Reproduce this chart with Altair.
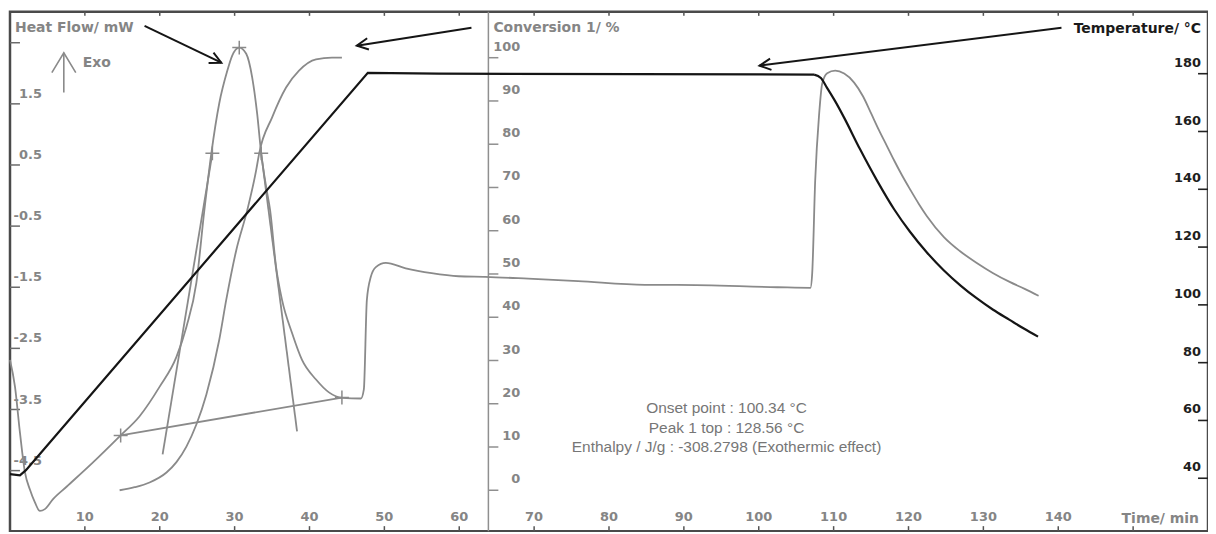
import math
import altair as alt
import pandas as pd

# ---------------- data ----------------
# Heat flow (mW) vs time (min)
hf_time = [0.0, 0.67, 1.33, 2.0, 2.66, 3.33, 3.99, 4.66, 5.72, 7.59, 11.05, 14.64, 17.31,
           19.97, 22.23, 23.56, 24.89, 25.96, 26.89, 27.95, 29.02, 29.68, 30.62, 31.55, 32.35,
           33.01, 33.55, 34.21, 34.74, 35.54, 36.34, 37.67, 39.0, 40.87, 42.6, 44.33, 46.86,
           47.26, 47.66, 48.19, 48.86, 50.19, 52.85, 56.31, 59.9, 63.49, 69.2, 75.87, 84.78,
           89.17, 102.5, 106.9, 107.14, 107.54, 108.07, 108.47, 109.14, 110.22, 111.41, 112.74,
           113.94, 115.01, 116.07, 117.14, 118.07, 119.13, 120.2, 121.4, 122.46, 124.73, 126.85,
           129.12, 131.25, 133.51, 135.51, 137.37]
hf_value = [-2.69, -3.13, -3.88, -4.53, -4.81, -5.02, -5.16, -5.13, -4.97, -4.76, -4.37, -3.94,
            -3.61, -3.13, -2.64, -2.15, -1.43, -0.24, 0.69, 1.51, 2.04, 2.29, 2.42, 2.32, 1.93,
            1.34, 0.69, 0.14, -0.24, -1.17, -1.71, -2.25, -2.69, -3.01, -3.22, -3.31, -3.32,
            -3.17, -1.71, -1.33, -1.17, -1.10, -1.19, -1.27, -1.32, -1.33, -1.36, -1.40, -1.46,
            -1.46, -1.50, -1.51, -1.27, 0.25, 1.34, 1.83, 2.0, 2.043, 1.995, 1.848, 1.62, 1.343,
            1.066, 0.805, 0.577, 0.332, 0.104, -0.141, -0.337, -0.679, -0.907, -1.103, -1.266,
            -1.413, -1.527, -1.641]

# Baseline and tangents of the exothermic peak (heat-flow units)
baseline_time = [14.78, 44.33]
baseline_hf = [-3.924, -3.305]
tangent1_time = [20.38, 27.03]
tangent1_hf = [-4.234, 0.69]
tangent2_time = [33.55, 38.34]
tangent2_hf = [0.69, -3.859]

# "+" markers on the heat-flow curve
marker_time = [14.78, 44.33, 27.03, 33.55, 30.62]
marker_hf = [-3.924, -3.305, 0.69, 0.69, 2.42]

# Conversion (%)
conv_time = [14.64, 16.64, 18.64, 20.9, 22.23, 23.56, 24.89, 26.22, 27.95, 28.88, 30.22, 31.68,
             32.88, 33.28, 35.01, 36.87, 38.6, 40.87, 43.0, 44.33]
conv_value = [0.0, 0.7, 1.8, 4.1, 6.5, 10.1, 15.2, 22.1, 34.8, 44.0, 55.5, 64.7, 74.0, 77.9,
              86.2, 93.1, 97.0, 99.6, 100.0, 100.0]

# Temperature (°C): heating ramp + isotherm, then cooling
temp_ramp_time = [0.0, 1.33, 2.13, 2.93, 47.79, 57.2, 107.4]
temp_ramp_value = [41.4, 41.0, 42.8, 45.2, 180.3, 180.0, 179.7]
temp_cool_time = [107.4, 108.3, 109.1, 110.2, 111.4, 113.5, 115.8, 118.1, 120.2, 122.4, 124.7,
                  127.0, 129.1, 131.3, 133.5, 135.4, 137.3]
temp_cool_value = [179.7, 178.5, 175.2, 170.5, 164.8, 154.0, 143.0, 133.0, 125.3, 118.3, 112.0,
                   106.6, 102.3, 98.3, 94.8, 91.8, 89.0]

# Annotation arrows (time, temperature-scale units)
arrow_t0 = [17.97, 61.63, 140.43]
arrow_v0 = [196.55, 195.9, 195.9]
arrow_t1 = [28.22, 46.32, 100.1]
arrow_v1 = [183.8, 189.7, 182.8]

# Axis ticks / labels
hf_ticks = [2.5, 1.5, 0.5, -0.5, -1.5, -2.5, -3.5, -4.5]
hf_labels = ["", "1.5", "0.5", "-0.5", "-1.5", "-2.5", "-3.5", "-4.5"]
conv_ticks = [100, 90, 80, 70, 60, 50, 40, 30, 20, 10, 0]
conv_labels = ["100", "90", "80", "70", "60", "50", "40", "30", "20", "10", "0"]
temp_ticks = [180, 160, 140, 120, 100, 80, 60, 40]
temp_labels = ["180", "160", "140", "120", "100", "80", "60", "40"]
time_ticks = [10, 20, 30, 40, 50, 60, 70, 80, 90, 100, 110, 120, 130, 140, 150]
time_labels = ["10", "20", "30", "40", "50", "60", "70", "80", "90", "100", "110", "120", "130", "140", ""]

# Result annotation (time, conversion-scale units)
ann_time = [95.7, 95.7, 95.7]
ann_conv = [19.1, 14.5, 9.9]
ann_text = ["Onset point : 100.34  °C", "Peak 1 top : 128.56  °C",
            "Enthalpy / J/g : -308.2798 (Exothermic effect)"]

# ---------------- chart ----------------
W, H = 1202, 521
T_DOM = [0, 160]
HF_DOM = [-5.49, 3.005]
CV_DOM = [-9.45, 110.6]
TP_DOM = [21.7, 201.4]

GRAY = "#8a8a8a"
LABEL_GRAY = "#858585"
BLACK = "#151515"
BOLD_FONT = "DejaVu Sans"


def X(field):
    return alt.X(field, type="quantitative",
                 scale=alt.Scale(domain=T_DOM, nice=False, zero=False), axis=None)


def Y(field, dom):
    return alt.Y(field, type="quantitative",
                 scale=alt.Scale(domain=dom, nice=False, zero=False), axis=None)


one = pd.DataFrame({"a": [0]})

# heat-flow curve + construction lines
rows = []
for i, (t, v) in enumerate(zip(hf_time, hf_value)):
    rows.append({"t": t, "v": v, "seg": "curve", "i": i})
for name, ts, vs in [("baseline", baseline_time, baseline_hf),
                     ("tan1", tangent1_time, tangent1_hf),
                     ("tan2", tangent2_time, tangent2_hf)]:
    for i, (t, v) in enumerate(zip(ts, vs)):
        rows.append({"t": t, "v": v, "seg": name, "i": i})
hf_df = pd.DataFrame(rows)

hf_layer = alt.Chart(hf_df).mark_line(color=GRAY, strokeWidth=1.8, interpolate="monotone").encode(
    x=X("t"), y=Y("v", HF_DOM), detail="seg:N", order="i:Q")

marker_df = pd.DataFrame({"t": marker_time, "v": marker_hf})
marker_layer = alt.Chart(marker_df).mark_point(
    shape="M-1,0L1,0M0,-1L0,1", size=196, filled=False, strokeWidth=1.5,
    color=GRAY, opacity=1).encode(x=X("t"), y=Y("v", HF_DOM))

conv_df = pd.DataFrame({"t": conv_time, "v": conv_value, "i": range(len(conv_time))})
conv_layer = alt.Chart(conv_df).mark_line(color=GRAY, strokeWidth=1.8, interpolate="monotone").encode(
    x=X("t"), y=Y("v", CV_DOM), order="i:Q")

ramp_df = pd.DataFrame({"t": temp_ramp_time, "v": temp_ramp_value, "i": range(len(temp_ramp_time))})
ramp_layer = alt.Chart(ramp_df).mark_line(color=BLACK, strokeWidth=2.2).encode(
    x=X("t"), y=Y("v", TP_DOM), order="i:Q")
cool_df = pd.DataFrame({"t": temp_cool_time, "v": temp_cool_value, "i": range(len(temp_cool_time))})
cool_layer = alt.Chart(cool_df).mark_line(color=BLACK, strokeWidth=2.2, interpolate="monotone").encode(
    x=X("t"), y=Y("v", TP_DOM), order="i:Q")

# arrows
px_t = W / (T_DOM[1] - T_DOM[0])
px_v = H / (TP_DOM[1] - TP_DOM[0])
angles = []
for a0, b0, a1, b1 in zip(arrow_t0, arrow_v0, arrow_t1, arrow_v1):
    ang = math.degrees(math.atan2(-(b1 - b0) * px_v, (a1 - a0) * px_t)) % 360
    angles.append(ang)
arrow_df = pd.DataFrame({"t0": arrow_t0, "v0": arrow_v0, "t1": arrow_t1, "v1": arrow_v1, "ang": angles})
arrow_shaft = alt.Chart(arrow_df).mark_rule(color=BLACK, strokeWidth=2).encode(
    x=X("t0"), x2="t1", y=Y("v0", TP_DOM), y2="v1")
arrow_head = alt.Chart(arrow_df).mark_point(
    shape="M-1,-0.5L0,0L-1,0.5", size=520, filled=False, strokeWidth=2,
    color=BLACK, opacity=1).encode(
    x=X("t1"), y=Y("v1", TP_DOM), angle=alt.Angle("ang:Q", scale=None))

# Exo indicator
exo_shaft = alt.Chart(one).mark_rule(color=GRAY, strokeWidth=1.6).encode(
    x=alt.value(54), y=alt.value(41), y2=alt.value(81))
exo_head = alt.Chart(one).mark_point(
    shape="M-0.6,1L0,0L0.6,1", size=1600, filled=False, strokeWidth=1.6,
    color=GRAY, opacity=1).encode(x=alt.value(54), y=alt.value(41))

# axes drawn as marks
hf_tick_df = pd.DataFrame({"v": hf_ticks, "lab": hf_labels})
hf_tick_layer = alt.Chart(hf_tick_df).mark_rule(color="#6a6a6a", strokeWidth=1.5).encode(
    x=alt.value(0), x2=alt.value(10), y=Y("v", HF_DOM))
hf_lab_layer = alt.Chart(hf_tick_df).mark_text(
    align="right", baseline="middle", dy=-10, font=BOLD_FONT, fontWeight="bold",
    fontSize=13, color=LABEL_GRAY).encode(x=alt.value(32), y=Y("v", HF_DOM), text="lab:N")

cv_tick_df = pd.DataFrame({"v": conv_ticks, "lab": conv_labels})
cv_axis_line = alt.Chart(one).mark_rule(color="#8f8f8f", strokeWidth=1.5).encode(
    x=alt.value(480), y=alt.value(0), y2=alt.value(H))
cv_tick_layer = alt.Chart(cv_tick_df).mark_rule(color="#8f8f8f", strokeWidth=1.5).encode(
    x=alt.value(480), x2=alt.value(490), y=Y("v", CV_DOM))
cv_lab_layer = alt.Chart(cv_tick_df).mark_text(
    align="right", baseline="middle", dy=-11, font=BOLD_FONT, fontWeight="bold",
    fontSize=13, color=LABEL_GRAY).encode(x=alt.value(512), y=Y("v", CV_DOM), text="lab:N")

tp_tick_df = pd.DataFrame({"v": temp_ticks, "lab": temp_labels})
tp_tick_layer = alt.Chart(tp_tick_df).mark_rule(color="#222222", strokeWidth=1.6).encode(
    x=alt.value(W - 10), x2=alt.value(W), y=Y("v", TP_DOM))
tp_lab_layer = alt.Chart(tp_tick_df).mark_text(
    align="right", baseline="middle", dy=-11, font=BOLD_FONT, fontWeight="bold",
    fontSize=13, color="#1e1e1e").encode(x=alt.value(W - 7), y=Y("v", TP_DOM), text="lab:N")

time_df = pd.DataFrame({"t": time_ticks, "lab": time_labels})
time_tick_bottom = alt.Chart(time_df).mark_rule(color="#555555", strokeWidth=1.5).encode(
    x=X("t"), y=alt.value(H - 5), y2=alt.value(H))
time_tick_top = alt.Chart(time_df).mark_rule(color="#555555", strokeWidth=1.5).encode(
    x=X("t"), y=alt.value(0), y2=alt.value(4))
time_lab_layer = alt.Chart(time_df).mark_text(
    align="center", baseline="middle", font=BOLD_FONT, fontWeight="bold",
    fontSize=13, color=LABEL_GRAY).encode(x=X("t"), y=alt.value(H - 14), text="lab:N")


# titles
def title(txt, x, y, align="left", color=LABEL_GRAY):
    return alt.Chart(one).mark_text(
        text=txt, align=align, baseline="middle", font=BOLD_FONT, fontWeight="bold",
        fontSize=14, color=color).encode(x=alt.value(x), y=alt.value(y))


t_hf = title("Heat Flow/ mW", 5, 16)
t_exo = title("Exo", 73, 51)
t_cv = title("Conversion  1/ %", 485, 16)
t_tp = title("Temperature/ °C", W - 7, 17, align="right", color="#1a1a1a")
t_time = title("Time/ min", W - 9, H - 12, align="right")

ann_df = pd.DataFrame({"t": ann_time, "v": ann_conv, "txt": ann_text})
ann_layer = alt.Chart(ann_df).mark_text(
    align="center", baseline="middle", font="Liberation Sans", fontSize=15.5,
    color="#767676").encode(x=X("t"), y=Y("v", CV_DOM), text="txt:N")

layers = [cv_axis_line, hf_tick_layer, hf_lab_layer, cv_tick_layer, cv_lab_layer,
          tp_tick_layer, tp_lab_layer, time_tick_bottom, time_tick_top, time_lab_layer,
          ann_layer, hf_layer, conv_layer, marker_layer, ramp_layer, cool_layer,
          arrow_shaft, arrow_head, exo_shaft, exo_head, t_hf, t_exo, t_cv, t_tp, t_time]

chart = alt.layer(*layers).resolve_scale(y="independent").properties(
    width=W, height=H,
    padding={"left": 2, "top": 3, "right": 0, "bottom": 0},
    autosize=alt.AutoSizeParams(type="none"),
).configure_view(stroke="#4a4a4a", strokeWidth=2.5)

chart.save("out.html", embed_options={"renderer": "svg", "actions": False})
